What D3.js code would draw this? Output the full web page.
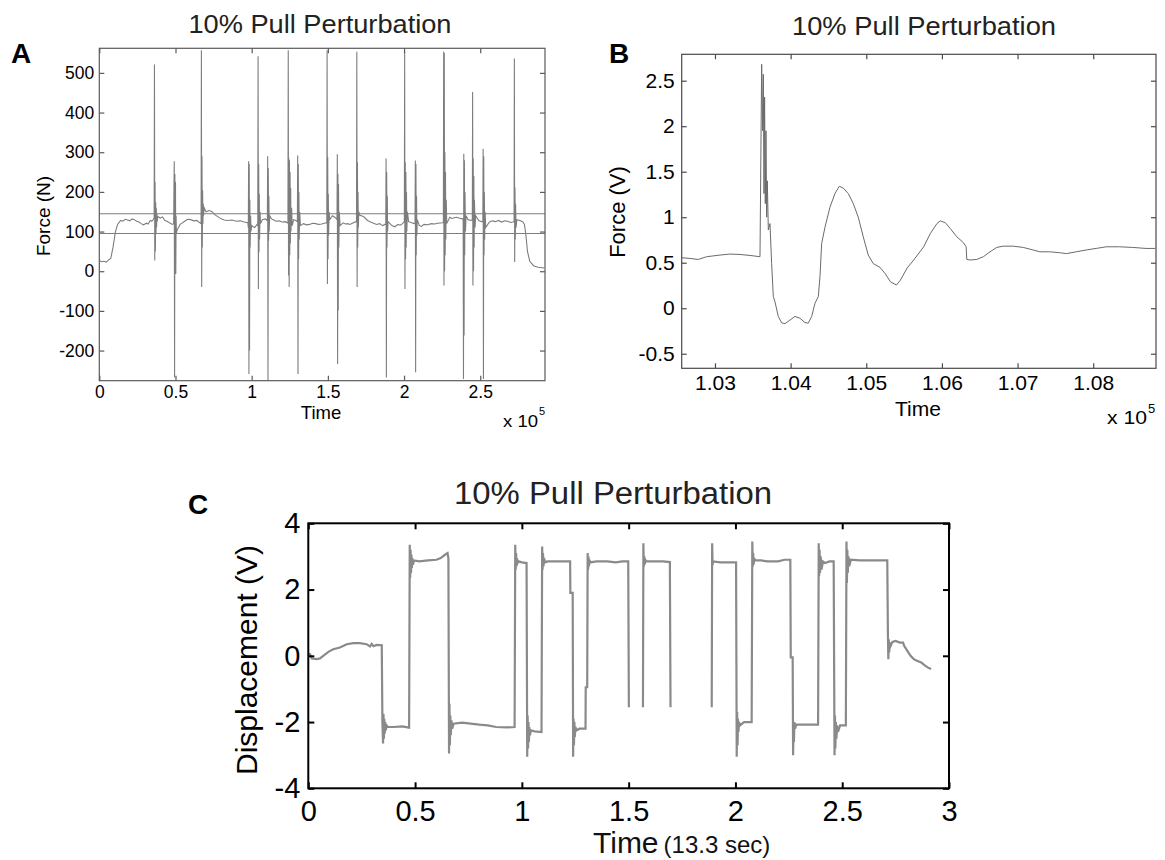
<!DOCTYPE html>
<html>
<head>
<meta charset="utf-8">
<script src="https://cdn.jsdelivr.net/npm/d3@7"></script>
<style>
  body { margin: 0; background: #fff; }
  text { font-family: "Liberation Sans", Arial, sans-serif; }
</style>
</head>
<body>
<svg id="fig" width="1165" height="860"></svg>
<script>
// ---- panel A: force over the whole trial (time in units of 10^5) ----
const forceTicksX = [0, 0.5, 1, 1.5, 2, 2.5];
const forceTicksY = [-200, -100, 0, 100, 200, 300, 400, 500];
const forceDomainX = [0, 2.925];
const forceDomainY = [-276, 562];
const forceLimits = [145, 95];
const forceTrace = [
  [0.000, 27], [0.015, 24], [0.030, 25], [0.045, 23], [0.060, 28], [0.075, 32], [0.090, 60], [0.105, 98], [0.120, 118], [0.140, 128],
  [0.155, 126], [0.170, 131], [0.185, 129], [0.200, 127], [0.215, 132], [0.230, 130], [0.245, 126], [0.260, 124], [0.275, 120],
  [0.290, 117], [0.310, 121], [0.320, 119], [0.335, 128], [0.345, 126], [0.355, 131],
  [0.360, 135], [0.362, 521], [0.364, 27], [0.366, 225], [0.368, 50], [0.370, 174], [0.372, 95], [0.374, 160],
  [0.376, 110], [0.378, 145], [0.380, 125], [0.383, 138],
  [0.400, 134], [0.415, 137], [0.430, 128], [0.445, 126], [0.460, 122], [0.480, 118],
  [0.488, 120], [0.490, 215], [0.492, 277], [0.494, -268], [0.496, 245], [0.498, 80], [0.500, 225], [0.502, -7],
  [0.504, 140], [0.506, 95], [0.510, 103],
  [0.530, 118], [0.545, 122], [0.560, 126], [0.580, 131], [0.600, 130], [0.620, 127], [0.640, 128], [0.660, 122],
  [0.668, 120], [0.670, 557], [0.672, -40], [0.674, 290], [0.676, 60], [0.678, 204], [0.680, 120], [0.682, 170],
  [0.684, 140], [0.688, 160],
  [0.700, 150], [0.720, 153], [0.740, 150], [0.760, 142], [0.780, 137], [0.800, 132], [0.820, 129], [0.840, 128],
  [0.870, 129], [0.900, 126], [0.925, 127], [0.950, 124], [0.975, 122],
  [0.978, 110], [0.980, 277], [0.982, -259], [0.984, 270], [0.986, -200], [0.988, 180], [0.990, 60], [0.993, 140], [0.996, 100],
  [1.000, 115], [1.010, 112], [1.020, 110], [1.035, 118],
  [1.040, 115], [1.042, 542], [1.044, -45], [1.046, 271], [1.048, 48], [1.050, 195], [1.052, 80], [1.055, 150], [1.058, 120],
  [1.070, 130], [1.090, 132], [1.100, 128],
  [1.103, 130], [1.105, 290], [1.107, -276], [1.109, 260], [1.111, 77], [1.113, 190], [1.115, 100], [1.118, 140],
  [1.130, 132], [1.145, 129], [1.160, 126], [1.180, 127], [1.200, 124], [1.220, 125], [1.235, 122],
  [1.238, 122], [1.240, 557], [1.242, -11], [1.244, 284], [1.246, -40], [1.248, 280], [1.250, 40], [1.252, 250],
  [1.254, 70], [1.256, 210], [1.258, 100], [1.262, 160], [1.266, 115],
  [1.275, 130], [1.290, 128],
  [1.300, 125], [1.302, 292], [1.304, -259], [1.306, 270], [1.308, 30], [1.310, 200], [1.312, 80], [1.315, 150], [1.320, 115],
  [1.340, 120], [1.360, 117], [1.380, 118], [1.400, 121], [1.420, 120], [1.440, 118], [1.460, 119], [1.490, 122],
  [1.493, 122], [1.495, 557], [1.497, -32], [1.499, 288], [1.501, 30], [1.503, 195], [1.505, 90], [1.508, 150], [1.512, 130],
  [1.530, 140], [1.550, 135],
  [1.560, 130], [1.562, 295], [1.564, -234], [1.566, 246], [1.568, -99], [1.570, 220], [1.572, 60], [1.575, 150], [1.580, 115],
  [1.600, 122], [1.615, 119], [1.630, 120], [1.645, 118], [1.660, 121], [1.685, 125],
  [1.688, 125], [1.690, 553], [1.692, -40], [1.694, 275], [1.696, 60], [1.698, 200], [1.700, 110], [1.703, 150],
  [1.710, 141], [1.725, 139], [1.740, 136], [1.760, 128], [1.780, 124], [1.800, 121], [1.820, 118], [1.840, 120],
  [1.860, 115], [1.875, 118],
  [1.880, 118], [1.882, 284], [1.884, -268], [1.886, 250], [1.888, 60], [1.890, 190], [1.892, 100], [1.895, 125],
  [1.920, 115], [1.940, 112], [1.960, 118], [1.975, 116], [1.990, 120],
  [2.002, 125], [2.004, 553], [2.006, -45], [2.008, 275], [2.010, 30], [2.012, 250], [2.014, 60], [2.016, 200],
  [2.018, 100], [2.022, 150],
  [2.030, 125], [2.050, 122], [2.068, 120],
  [2.072, 120], [2.074, 279], [2.076, -255], [2.078, 270], [2.080, 40], [2.082, 190], [2.084, 90], [2.087, 130],
  [2.100, 115], [2.115, 113], [2.130, 118], [2.155, 117], [2.180, 120], [2.200, 119], [2.220, 121], [2.255, 122],
  [2.258, 125], [2.260, 553], [2.262, -36], [2.264, 550], [2.266, 0], [2.268, 300], [2.270, 40], [2.272, 250],
  [2.274, 80], [2.277, 180], [2.280, 120],
  [2.300, 136], [2.315, 133], [2.330, 135], [2.345, 136], [2.360, 134], [2.385, 132],
  [2.388, 130], [2.390, -272], [2.392, 296], [2.394, -162], [2.396, 280], [2.398, 40], [2.400, 200], [2.403, 100], [2.407, 140],
  [2.420, 130], [2.440, 128],
  [2.448, 130], [2.450, 452], [2.452, -36], [2.454, 284], [2.456, 0], [2.458, 240], [2.460, 60], [2.462, 180],
  [2.466, 110], [2.470, 140],
  [2.490, 128], [2.510, 125],
  [2.517, 125], [2.519, 309], [2.521, -272], [2.523, 290], [2.525, 40], [2.527, 200], [2.529, 80], [2.532, 150], [2.536, 110],
  [2.560, 124], [2.580, 127], [2.600, 125], [2.620, 128], [2.640, 124], [2.660, 127], [2.680, 126], [2.700, 123], [2.715, 124],
  [2.722, 125], [2.724, 536], [2.726, 23], [2.728, 212], [2.730, 80], [2.732, 170], [2.735, 110], [2.740, 130],
  [2.760, 128], [2.780, 124], [2.790, 118], [2.800, 90], [2.810, 50], [2.825, 25], [2.850, 14], [2.880, 10], [2.920, 8]
];

// ---- panel B: zoom on one perturbation (time in units of 10^5) ----
const zoomTicksX = [1.03, 1.04, 1.05, 1.06, 1.07, 1.08];
const zoomTicksY = [-0.5, 0, 0.5, 1, 1.5, 2, 2.5];
const zoomDomainX = [1.0256, 1.0883];
const zoomDomainY = [-0.66, 2.79];
const zoomTrace = [
  [1.02551, 0.555], [1.02670, 0.547], [1.02780, 0.536], [1.02890, 0.566], [1.03066, 0.584], [1.03198, 0.595],
  [1.03330, 0.591], [1.03463, 0.580], [1.03595, 0.566],
  [1.03617, 2.68], [1.03630, 1.95], [1.03639, 2.57], [1.03648, 1.26], [1.03656, 2.32], [1.03665, 1.15],
  [1.03674, 1.95], [1.03683, 1.00], [1.03692, 1.40], [1.03705, 0.86], [1.03727, 0.93], [1.03749, 0.49],
  [1.03771, 0.13], [1.03793, 0.07], [1.03837, -0.09], [1.03881, -0.16], [1.03925, -0.17], [1.03991, -0.13],
  [1.04057, -0.09], [1.04123, -0.11], [1.04189, -0.157], [1.04233, -0.164], [1.04278, -0.09], [1.04322, 0.055],
  [1.04366, 0.128], [1.04388, 0.347], [1.04410, 0.71], [1.04454, 0.89], [1.04520, 1.11], [1.04586, 1.26],
  [1.04643, 1.34], [1.04696, 1.32], [1.04762, 1.26], [1.04828, 1.15], [1.04894, 1.00], [1.04960, 0.785],
  [1.05026, 0.584], [1.05093, 0.49], [1.05180, 0.45], [1.05250, 0.38], [1.05320, 0.29], [1.05399, 0.255],
  [1.05452, 0.31], [1.05539, 0.44], [1.05627, 0.53], [1.05759, 0.675], [1.05846, 0.82], [1.05934, 0.93],
  [1.05978, 0.96], [1.06044, 0.94], [1.06110, 0.876], [1.06197, 0.785], [1.06285, 0.72], [1.06320, 0.675],
  [1.06329, 0.536], [1.06373, 0.53], [1.06461, 0.536], [1.06548, 0.566], [1.06636, 0.62], [1.06724, 0.668],
  [1.06811, 0.682], [1.06943, 0.682], [1.07075, 0.668], [1.07206, 0.64], [1.07294, 0.62], [1.07425, 0.62],
  [1.07557, 0.61], [1.07645, 0.60], [1.07776, 0.62], [1.07908, 0.64], [1.08039, 0.657], [1.08171, 0.675],
  [1.08346, 0.675], [1.08522, 0.668], [1.08697, 0.657], [1.08820, 0.657]
];

// ---- panel C: displacement (null = gap in the record) ----
const dispTicksX = [0, 0.5, 1, 1.5, 2, 2.5, 3];
const dispTicksY = [-4, -2, 0, 2, 4];
const dispDomainX = [0, 3];
const dispDomainY = [-4, 4];
const dispTrace = [
  [0.000, 0.05], [0.008, 0.05], [0.016, -0.08], [0.039, -0.10], [0.055, -0.08], [0.070, 0.00], [0.094, 0.12],
  [0.117, 0.20], [0.148, 0.25], [0.180, 0.35], [0.211, 0.38], [0.242, 0.38], [0.273, 0.35], [0.289, 0.28],
  [0.297, 0.36], [0.305, 0.29], [0.320, 0.33], [0.344, 0.32],
  [0.347, -2.00], [0.350, -2.65], [0.352, -1.75], [0.354, -2.50], [0.356, -1.90], [0.358, -2.35], [0.360, -2.00],
  [0.363, -2.25], [0.366, -2.10], [0.372, -2.15], [0.400, -2.15], [0.440, -2.13], [0.472, -2.17],
  [0.475, 3.35], [0.477, 2.35], [0.479, 3.20], [0.481, 2.50], [0.483, 3.05], [0.485, 2.65], [0.487, 2.95],
  [0.490, 2.75], [0.495, 2.88], [0.520, 2.85], [0.560, 2.88], [0.600, 2.90], [0.620, 2.95], [0.640, 3.05],
  [0.652, 3.10], [0.656, 2.95],
  [0.659, -2.95], [0.661, -1.45], [0.663, -2.70], [0.665, -1.80], [0.667, -2.40], [0.670, -1.95], [0.674, -2.20],
  [0.680, -2.05], [0.720, -2.02], [0.760, -2.05], [0.800, -2.08], [0.840, -2.10], [0.880, -2.15], [0.930, -2.16],
  [0.966, -2.15],
  [0.969, 3.35], [0.971, 2.60], [0.973, 3.10], [0.975, 2.70], [0.977, 2.95], [0.980, 2.80], [0.985, 2.85],
  [1.000, 2.82], [1.022, 2.80],
  [1.025, -3.05], [1.027, -1.80], [1.029, -2.80], [1.031, -2.00], [1.033, -2.60], [1.035, -2.15], [1.038, -2.40],
  [1.042, -2.25], [1.060, -2.28], [1.092, -2.30],
  [1.095, 3.30], [1.097, 2.60], [1.099, 3.10], [1.101, 2.70], [1.104, 2.95], [1.108, 2.82], [1.120, 2.85],
  [1.160, 2.85], [1.200, 2.85], [1.226, 2.85],
  [1.227, 1.90], [1.238, 1.90], [1.240, -3.05], [1.242, -1.90], [1.244, -2.70], [1.246, -2.00], [1.248, -2.45],
  [1.251, -2.15], [1.256, -2.25], [1.270, -2.20], [1.298, -2.20],
  [1.299, -0.95], [1.306, -0.95], [1.308, 3.10], [1.310, 2.60], [1.312, 3.00], [1.314, 2.70], [1.317, 2.90],
  [1.320, 2.82], [1.350, 2.85], [1.400, 2.85], [1.440, 2.82], [1.470, 2.85], [1.498, 2.85],
  [1.501, -1.55], [1.501, null],
  [1.567, -1.55], [1.569, 3.40], [1.571, 2.70], [1.573, 3.00], [1.575, 2.75], [1.578, 2.90], [1.582, 2.85],
  [1.620, 2.85], [1.660, 2.85], [1.693, 2.83],
  [1.696, -1.55], [1.696, null],
  [1.889, -1.55], [1.891, 3.40], [1.893, 2.75], [1.896, 2.85], [1.930, 2.82], [1.960, 2.82], [2.003, 2.82],
  [2.006, -3.05], [2.008, -1.70], [2.010, -2.70], [2.012, -1.90], [2.014, -2.30], [2.017, -2.00], [2.022, -2.10],
  [2.040, -2.00], [2.076, -2.00],
  [2.079, 3.45], [2.081, 2.70], [2.083, 3.10], [2.085, 2.75], [2.088, 2.95], [2.092, 2.88], [2.120, 2.88],
  [2.150, 2.85], [2.200, 2.85], [2.230, 2.90], [2.257, 2.90],
  [2.259, -0.05], [2.268, -0.05], [2.270, -3.00], [2.272, -2.20], [2.274, -2.60], [2.276, -2.00], [2.279, -2.20],
  [2.285, -2.08], [2.320, -2.08], [2.387, -2.08],
  [2.390, 3.40], [2.392, 2.40], [2.394, 3.20], [2.396, 2.50], [2.399, 3.00], [2.403, 2.60], [2.410, 2.85],
  [2.420, 2.80], [2.440, 2.85], [2.460, 2.85],
  [2.464, -3.00], [2.466, -1.80], [2.468, -2.80], [2.470, -2.00], [2.473, -2.50], [2.476, -2.10], [2.480, -2.30],
  [2.490, -2.10], [2.517, -2.10],
  [2.520, 3.45], [2.522, 2.20], [2.524, 3.20], [2.526, 2.50], [2.529, 3.00], [2.533, 2.70], [2.540, 2.90],
  [2.580, 2.88], [2.640, 2.88], [2.711, 2.88],
  [2.714, 0.60], [2.716, -0.10], [2.718, 0.50], [2.720, 0.10], [2.723, 0.40], [2.727, 0.30], [2.735, 0.42],
  [2.750, 0.45], [2.770, 0.40], [2.785, 0.40], [2.790, 0.30], [2.805, 0.15], [2.820, 0.00], [2.835, -0.10],
  [2.850, -0.15], [2.870, -0.20], [2.885, -0.28], [2.900, -0.35], [2.916, -0.40]
];

const svg = d3.select('#fig');
svg.append('rect').attr('width', 1165).attr('height', 860).attr('fill', '#fff');

const renderPanel = (p, idx) => {
  const b = p.box;
  const x = d3.scaleLinear().domain(p.xDomain).range([b.left, b.right]);
  const y = d3.scaleLinear().domain(p.yDomain).range([b.bottom, b.top]);
  const g = svg.append('g');

  g.append('clipPath').attr('id', 'clip' + idx)
    .append('rect')
    .attr('x', b.left).attr('y', b.top)
    .attr('width', b.right - b.left).attr('height', b.bottom - b.top);

  const plot = g.append('g').attr('clip-path', `url(#clip${idx})`);

  (p.hlines || []).forEach(v => {
    plot.append('line')
      .attr('x1', b.left).attr('x2', b.right)
      .attr('y1', y(v)).attr('y2', y(v))
      .attr('stroke', p.lineColor).attr('stroke-width', 1.1);
  });

  const line = d3.line()
    .defined(d => d[1] !== null)
    .x(d => x(d[0]))
    .y(d => y(d[1]));

  plot.append('path')
    .datum(p.trace)
    .attr('fill', 'none')
    .attr('stroke', p.lineColor)
    .attr('stroke-width', p.lineWidth)
    .attr('stroke-linejoin', 'miter')
    .attr('d', line);

  // axes, MATLAB style: ticks point inwards on all four sides
  const styleAxis = (sel, size) => {
    sel.select('.domain').remove();
    sel.attr('color', p.frameColor)
      .attr('font-family', '"Liberation Sans", Arial, sans-serif')
      .attr('font-size', size);
    sel.selectAll('line').attr('stroke-width', p.frameWidth);
    sel.selectAll('text').attr('fill', '#000');
  };

  g.append('g')
    .attr('transform', `translate(0,${b.bottom})`)
    .call(d3.axisBottom(x).tickValues(p.xTicks).tickFormat(p.xFormat)
      .tickSize(-p.tick).tickPadding(p.padX))
    .call(s => styleAxis(s, p.tickFont));
  g.append('g')
    .attr('transform', `translate(0,${b.top})`)
    .call(d3.axisTop(x).tickValues(p.xTicks).tickFormat('').tickSize(-p.tick))
    .call(s => styleAxis(s, p.tickFont));
  g.append('g')
    .attr('transform', `translate(${b.left},0)`)
    .call(d3.axisLeft(y).tickValues(p.yTicks).tickFormat(d => String(d))
      .tickSize(-p.tick).tickPadding(p.padY))
    .call(s => styleAxis(s, p.tickFont));
  g.append('g')
    .attr('transform', `translate(${b.right},0)`)
    .call(d3.axisRight(y).tickValues(p.yTicks).tickFormat('').tickSize(-p.tick))
    .call(s => styleAxis(s, p.tickFont));

  g.append('rect')
    .attr('x', b.left).attr('y', b.top)
    .attr('width', b.right - b.left).attr('height', b.bottom - b.top)
    .attr('fill', 'none')
    .attr('stroke', p.frameColor)
    .attr('stroke-width', p.frameWidth);

  // title
  g.append('text')
    .attr('x', p.title.x).attr('y', p.title.y)
    .attr('text-anchor', 'middle')
    .attr('font-size', p.title.size)
    .attr('fill', '#222')
    .attr('textLength', p.title.len)
    .attr('lengthAdjust', 'spacingAndGlyphs')
    .text('10% Pull Perturbation');

  // panel letter
  g.append('text')
    .attr('x', p.letter.x).attr('y', p.letter.y)
    .attr('font-size', 28)
    .attr('font-weight', 'bold')
    .attr('fill', '#000')
    .text(p.letter.text);

  // y label
  g.append('text')
    .attr('transform', `translate(${p.ylab.x},${p.ylab.y}) rotate(-90)`)
    .attr('text-anchor', 'middle')
    .attr('font-size', p.ylab.size)
    .attr('fill', '#000')
    .text(p.ylab.text);
};

renderPanel({
  box: { left: 99.3, top: 48.3, right: 545, bottom: 380.7 },
  xDomain: forceDomainX, yDomain: forceDomainY,
  xTicks: forceTicksX, yTicks: forceTicksY,
  xFormat: d => String(d),
  trace: forceTrace, hlines: forceLimits,
  lineColor: '#7d7d7d', lineWidth: 1.1,
  frameColor: '#5a5a5a', frameWidth: 1.2,
  tick: 5, padX: 5, padY: 5, tickFont: 17.5,
  title: { x: 320, y: 33, size: 25, len: 263 },
  letter: { x: 11, y: 63, text: 'A' },
  ylab: { x: 50, y: 216, size: 19, text: 'Force (N)' }
}, 0);

renderPanel({
  box: { left: 681.7, top: 54.3, right: 1156, bottom: 368.3 },
  xDomain: zoomDomainX, yDomain: zoomDomainY,
  xTicks: zoomTicksX, yTicks: zoomTicksY,
  xFormat: d3.format('.2f'),
  trace: zoomTrace,
  lineColor: '#6a6a6a', lineWidth: 1,
  frameColor: '#4a4a4a', frameWidth: 1.2,
  tick: 5, padX: 7, padY: 7, tickFont: 21,
  title: { x: 924, y: 35, size: 26, len: 264 },
  letter: { x: 609, y: 63, text: 'B' },
  ylab: { x: 625, y: 212, size: 22, text: 'Force (V)' }
}, 1);

renderPanel({
  box: { left: 308.3, top: 523.3, right: 949, bottom: 788.3 },
  xDomain: dispDomainX, yDomain: dispDomainY,
  xTicks: dispTicksX, yTicks: dispTicksY,
  xFormat: d => String(d),
  trace: dispTrace,
  lineColor: '#8a8a8a', lineWidth: 2.2,
  frameColor: '#000', frameWidth: 2,
  tick: 6, padX: 12, padY: 8, tickFont: 29,
  title: { x: 613, y: 504, size: 31, len: 318 },
  letter: { x: 188, y: 514, text: 'C' },
  ylab: { x: 257, y: 660, size: 30, text: 'Displacement (V)' }
}, 2);

// x labels
svg.append('text')
  .attr('x', 321).attr('y', 419)
  .attr('text-anchor', 'middle').attr('font-size', 18.5).attr('fill', '#000')
  .text('Time');
svg.append('text')
  .attr('x', 503).attr('y', 426.5)
  .attr('font-size', 16).attr('fill', '#000')
  .attr('textLength', 35).attr('lengthAdjust', 'spacingAndGlyphs')
  .text('x 10');
svg.append('text')
  .attr('x', 539).attr('y', 415)
  .attr('font-size', 11).attr('fill', '#000')
  .text('5');

svg.append('text')
  .attr('x', 918).attr('y', 416)
  .attr('text-anchor', 'middle').attr('font-size', 21).attr('fill', '#000')
  .text('Time');
svg.append('text')
  .attr('x', 1107).attr('y', 424)
  .attr('font-size', 19).attr('fill', '#000')
  .attr('textLength', 40).attr('lengthAdjust', 'spacingAndGlyphs')
  .text('x 10');
svg.append('text')
  .attr('x', 1148).attr('y', 413)
  .attr('font-size', 13).attr('fill', '#000')
  .text('5');

const cLabel = svg.append('text')
  .attr('x', 593).attr('y', 853)
  .attr('fill', '#111');
cLabel.append('tspan').attr('font-size', 30).text('Time');
cLabel.append('tspan').attr('font-size', 24).attr('dx', 5).text('(13.3 sec)');
</script>
</body>
</html>
